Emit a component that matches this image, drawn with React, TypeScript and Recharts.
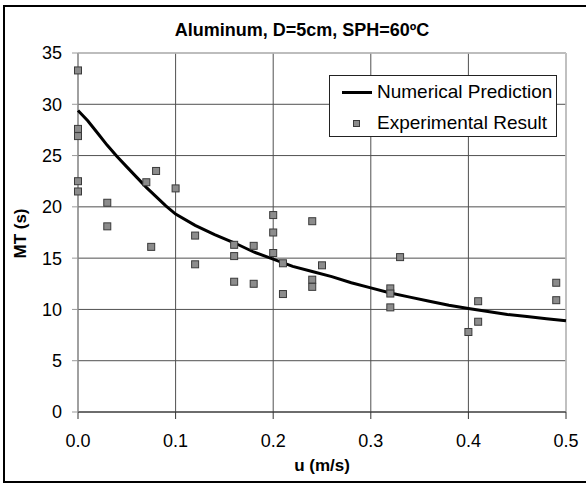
import React from 'react';
import { ScatterChart, Scatter, XAxis, YAxis, CartesianGrid, ReferenceLine, Legend } from 'recharts';

const title = 'Aluminum, D=5cm, SPH=60ºC';
const xLabel = 'u (m/s)';
const yLabel = 'MT (s)';
const lineName = 'Numerical Prediction';
const expName = 'Experimental Result';

const xTicks = [0, 0.1, 0.2, 0.3, 0.4, 0.5];
const yTicks = [0, 5, 10, 15, 20, 25, 30, 35];

const predX = [0, 0.01, 0.02, 0.03, 0.04, 0.05, 0.06, 0.07, 0.08, 0.09, 0.1, 0.12, 0.14, 0.16, 0.18, 0.2, 0.22, 0.24, 0.26, 0.28, 0.3, 0.32, 0.34, 0.36, 0.38, 0.4, 0.42, 0.44, 0.46, 0.48, 0.5];
const predY = [29.4, 28.4, 27.2, 26.0, 24.9, 23.9, 22.9, 21.9, 21.0, 20.1, 19.3, 18.2, 17.3, 16.5, 15.6, 14.9, 14.2, 13.7, 13.2, 12.6, 12.1, 11.6, 11.2, 10.8, 10.4, 10.1, 9.8, 9.5, 9.3, 9.1, 8.9];

const expX = [0, 0, 0, 0, 0, 0.03, 0.03, 0.07, 0.075, 0.08, 0.1, 0.12, 0.12, 0.16, 0.16, 0.16, 0.18, 0.18, 0.2, 0.2, 0.2, 0.21, 0.21, 0.24, 0.24, 0.24, 0.25, 0.32, 0.32, 0.32, 0.33, 0.4, 0.41, 0.41, 0.49, 0.49];
const expY = [33.3, 27.6, 26.9, 22.5, 21.5, 20.4, 18.1, 22.4, 16.1, 23.5, 21.8, 17.2, 14.4, 16.3, 15.2, 12.7, 16.2, 12.5, 19.2, 17.5, 15.5, 14.5, 11.5, 18.6, 12.9, 12.2, 14.3, 12.05, 11.55, 10.2, 15.1, 7.8, 10.8, 8.8, 12.6, 10.9];

const predData = predX.map((x, i) => ({ x, y: predY[i] }));
const expData = expX.map((x, i) => ({ x, y: expY[i] }));

const FONT = '"Liberation Sans", Arial, sans-serif';

const SquareShape = (props: any) => {
  const { cx, cy } = props;
  if (cx == null || cy == null) return <g />;
  return <rect x={cx - 3.5} y={cy - 3.5} width={7} height={7} fill="#8c8c8c" stroke="#3a3a3a" strokeWidth={1} />;
};

const NoShape = () => <g />;

const LegendBox = () => (
  <div
    style={{
      width: 226,
      height: 60,
      border: '1px solid #222',
      background: '#fff',
      fontFamily: FONT,
      fontSize: 19,
      color: '#000',
      position: 'relative',
    }}
  >
    <div style={{ position: 'absolute', left: 12, top: 15, width: 30, height: 3, background: '#000' }} />
    <div style={{ position: 'absolute', left: 47, top: 5, lineHeight: '22px', whiteSpace: 'nowrap' }}>{lineName}</div>
    <div style={{ position: 'absolute', left: 23, top: 44, width: 7, height: 7, background: '#8c8c8c', border: '1px solid #3a3a3a', boxSizing: 'border-box' }} />
    <div style={{ position: 'absolute', left: 47, top: 36, lineHeight: '22px', whiteSpace: 'nowrap' }}>{expName}</div>
  </div>
);

const YLabel = (props: any) => {
  const vb = props.viewBox || { x: 0, y: 0, width: 0, height: 0 };
  const cx = vb.x + 2;
  const cy = vb.y + vb.height / 2 + 1;
  return (
    <text x={cx} y={cy} transform={`rotate(-90 ${cx} ${cy})`} textAnchor="middle" dominantBaseline="central" fontFamily={FONT} fontSize={17} fontWeight="bold" fill="#000">
      {yLabel}
    </text>
  );
};

const XLabel = (props: any) => {
  const vb = props.viewBox || { x: 0, y: 0, width: 0, height: 0 };
  return (
    <text x={vb.x + vb.width / 2} y={vb.y + 59} textAnchor="middle" fontFamily={FONT} fontSize={17} fontWeight="bold" fill="#000">
      {xLabel}
    </text>
  );
};

export default function App() {
  return (
    <div style={{ position: 'absolute', left: 0, top: 0, width: 586, height: 483, overflow: 'hidden', background: '#fff' }}>
      <div style={{ position: 'absolute', left: 3, top: 5, width: 600, height: 474, border: '2px solid #000' }} />
      <div
        style={{
          position: 'absolute',
          left: 0,
          top: 21,
          width: 604,
          textAlign: 'center',
          fontFamily: FONT,
          fontSize: 18,
          fontWeight: 'bold',
          lineHeight: '18px',
          color: '#000',
        }}
      >
        {title}
      </div>
      <div style={{ position: 'absolute', left: 0, top: 0 }}>
        <ScatterChart width={586} height={483} margin={{ top: 53, right: 20, bottom: 41, left: 18 }}>
          <CartesianGrid stroke="#505050" strokeWidth={1} />
          <XAxis
            type="number"
            dataKey="x"
            domain={[0, 0.5]}
            ticks={xTicks}
            tickFormatter={(v: number) => v.toFixed(1)}
            height={30}
            tickSize={7}
            tickMargin={15}
            stroke="#333"
            tick={{ fill: '#000', fontSize: 18, fontFamily: FONT }}
            label={<XLabel />}
          />
          <YAxis
            type="number"
            dataKey="y"
            domain={[0, 35]}
            ticks={yTicks}
            width={60}
            tickSize={6}
            tickMargin={10}
            stroke="#999"
            tick={{ fill: '#000', fontSize: 18, fontFamily: FONT }}
            label={<YLabel />}
          />
          <ReferenceLine y={35} stroke="#c4c4c4" strokeWidth={1.5} />
          <ReferenceLine x={0.5} stroke="#c8c8c8" strokeWidth={1.5} />
          <Legend
            layout="vertical"
            align="center"
            verticalAlign="middle"
            wrapperStyle={{ left: 329, top: 75, width: 228, height: 62 }}
            content={() => <LegendBox />}
          />
          <Scatter
            name={lineName}
            data={predData}
            line={{ stroke: '#000', strokeWidth: 3 }}
            lineType="joint"
            shape={<NoShape />}
            isAnimationActive={false}
          />
          <Scatter name={expName} data={expData} shape={<SquareShape />} isAnimationActive={false} />
        </ScatterChart>
      </div>
    </div>
  );
}
